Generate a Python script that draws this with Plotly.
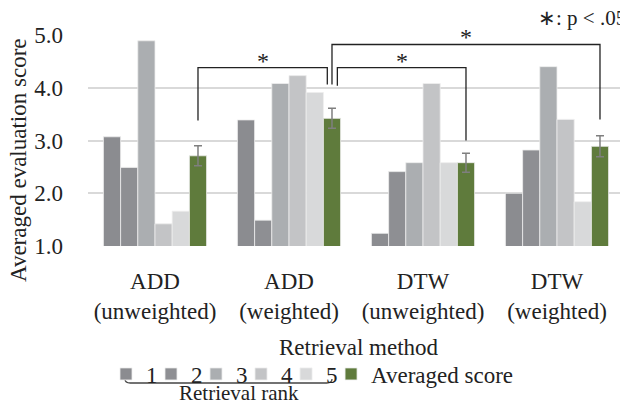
import plotly.graph_objects as go

categories = ["ADD<br>(unweighted)", "ADD<br>(weighted)", "DTW<br>(unweighted)", "DTW<br>(weighted)"]
rank_names = ["1", "2", "3", "4", "5"]
rank1 = [3.07, 3.39, 1.24, 2.00]
rank2 = [2.49, 1.49, 2.41, 2.82]
rank3 = [4.89, 4.08, 2.58, 4.40]
rank4 = [1.42, 4.23, 4.08, 3.40]
rank5 = [1.66, 3.91, 2.58, 1.84]
averaged = [2.71, 3.42, 2.58, 2.89]
averaged_err = [0.19, 0.19, 0.18, 0.20]
y_ticks = [1.0, 2.0, 3.0, 4.0, 5.0]

# significance brackets: (group a, shift a, group b, shift b, top, bottom a, bottom b)
brackets = [
    (0, 0.0, 1, -0.035, 4.38, 3.38, 4.06),
    (1, 0.04, 2, 0.0, 4.38, 4.04, 3.00),
    (1, 0.0, 3, 0.0, 4.82, 4.06, 3.40),
]

rank_colors = ["#8b8c90", "#8e8f93", "#abaeb1", "#c3c4c6", "#d8d9da"]
avg_color = "#5f7b3c"
FONT = "Liberation Serif, Times New Roman, serif"

W, H = 620, 405
ML, MR, MT, MB = 88, 0, 35, 159
bargap = 0.23
n_series = 6
bar_w = (1 - bargap) / n_series
avg_offset = bar_w * 2.5

x = list(range(len(categories)))
fig = go.Figure()
for name, vals, col in zip(rank_names, [rank1, rank2, rank3, rank4, rank5], rank_colors):
    fig.add_trace(go.Bar(x=x, y=vals, name=name, marker=dict(color=col, line=dict(color="#eeeeee", width=0.8)),
                         legendwidth=0.01))
fig.add_trace(go.Bar(x=x, y=averaged, name="Averaged score",
                     marker=dict(color=avg_color, line=dict(color="#eeeeee", width=0.8)),
                     error_y=dict(type="data", array=averaged_err, color="#7f7f7f", thickness=1.5, width=4)))

for ga, sa, gb, sb, top, ba, bb in brackets:
    xa = ga + avg_offset + sa
    xb = gb + avg_offset + sb
    fig.add_shape(type="path", path=f"M {xa},{ba} L {xa},{top} L {xb},{top} L {xb},{bb}",
                  xref="x", yref="y", line=dict(color="#222222", width=1.3))
    fig.add_annotation(x=(xa + xb) / 2, y=top, xref="x", yref="y", text="*", showarrow=False,
                       xanchor="center", yanchor="bottom", yshift=-8,
                       font=dict(family=FONT, size=24, color="#222222"))

pw = W - ML - MR
ph = H - MT - MB
def px_x(p):
    return (p - ML) / pw
def px_y(p):
    return (H - MB - p) / ph

# retrieval rank brace
bx0, bx1, by = px_x(125), px_x(332), px_y(383)
up = (px_y(379) - by)
fig.add_shape(type="path", xref="paper", yref="paper",
              path=f"M {bx0},{by+up} Q {bx0},{by} {bx0+0.01},{by} L {bx1-0.01},{by} Q {bx1},{by} {bx1},{by+up}",
              line=dict(color="#444444", width=1.3))
fig.add_annotation(x=px_x(239), y=px_y(393), xref="paper", yref="paper", text="Retrieval rank",
                   xanchor="center", yanchor="middle", showarrow=False,
                   font=dict(family=FONT, size=21, color="#222222"))
fig.add_annotation(x=px_x(536), y=px_y(18), xref="paper", yref="paper", text="∗: p < .05",
                   xanchor="left", yanchor="middle", showarrow=False,
                   font=dict(family=FONT, size=21, color="#222222"))
fig.add_annotation(x=px_x(18), y=px_y(160), xref="paper", yref="paper", text="Averaged evaluation score",
                   textangle=-90, xanchor="center", yanchor="middle", showarrow=False,
                   font=dict(family=FONT, size=23, color="#222222"))
fig.add_annotation(x=px_x(359), y=px_y(347), xref="paper", yref="paper", text="Retrieval method",
                   xanchor="center", yanchor="middle", showarrow=False,
                   font=dict(family=FONT, size=23, color="#222222"))

fig.update_layout(
    width=W, height=H,
    margin=dict(l=ML, r=MR, t=MT, b=MB, autoexpand=False),
    paper_bgcolor="white", plot_bgcolor="white",
    barmode="group", bargap=bargap, bargroupgap=0,
    font=dict(family=FONT, size=23, color="#222222"),
    showlegend=True,
    legend=dict(orientation="h", xref="container", yref="container", x=106 / W, y=1 - 374 / H,
                xanchor="left", yanchor="middle", font=dict(family=FONT, size=23, color="#222222"),
                itemwidth=30, borderwidth=0, bgcolor="rgba(0,0,0,0)", tracegroupgap=0),
    xaxis=dict(range=[-0.5, -0.5 + pw / 134], tickvals=x, ticktext=categories, showgrid=False,
               showline=False, zeroline=False, ticks="", ticklabelstandoff=19, automargin=False),
    yaxis=dict(range=[1, 5], tickvals=y_ticks, tickformat=".1f", showgrid=True, gridcolor="#d9d9d9",
               gridwidth=1.5, zeroline=False, showline=False, ticks="", ticklabelstandoff=24,
               automargin=False, tickfont=dict(family=FONT, size=23)),
)

fig.write_html("out.html", config={"displayModeBar": False},
               post_script="document.body.style.margin='0';document.body.style.overflow='hidden';")
